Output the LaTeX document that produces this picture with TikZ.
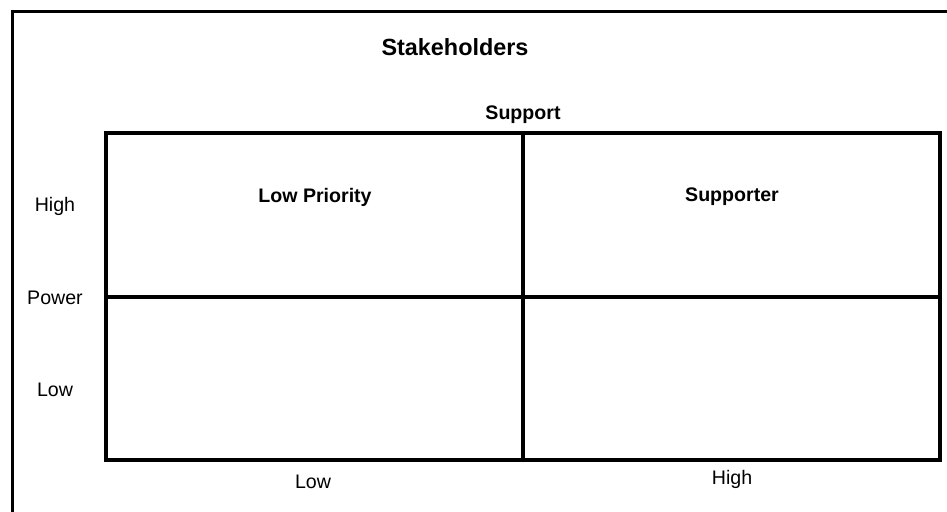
\documentclass[tikz,border=0pt]{standalone}
\usepackage{fontspec}
\setmainfont{Liberation Sans}
\usetikzlibrary{positioning}
\tikzset{
    frame/.style = {line width=1.5pt},
    grid line/.style = {line width=2pt},
    head/.style = {font=\fontsize{11.7}{14}\selectfont\bfseries},
    cell label/.style = {font=\fontsize{9.8}{12}\selectfont\bfseries},
    axis label/.style = {font=\fontsize{9.8}{12}\selectfont}
}

\begin{document}
\begin{tikzpicture}[x=0.5pt,y=-0.5pt]
    \useasboundingbox[fill=white] (0,0) rectangle (947,512);
    % outer frame, runs off the page at right and bottom
    \coordinate (fs) at (12,530);
    \coordinate (fe) at (970,12);
    \draw[frame] (fs) |- (fe);

    % matrix corners
    \coordinate (nw) at (106,133);
    \coordinate (se) at (940,460);
    \coordinate (c) at (523,297);
    \draw[grid line] (nw) rectangle (se);
    \draw[grid line] (nw -| c) -- (se -| c);
    \draw[grid line] (nw |- c) -- (se |- c);

    \node[head] (title) at (455,47) {Stakeholders};
    \node[cell label] (support) at (523,115) {Support};
    \node[cell label] (lowprio) at (315,197) {Low Priority};
    \node[cell label] (supporter) at (732,197) {Supporter};

    \node[axis label] (power) at (55,298) {Power};
    \node[axis label, above=46pt of power.center, anchor=center] (phigh) {High};
    \node[axis label, below=46pt of power.center, anchor=center] (plow) {Low};

    \node[axis label] (slow) at (313,482) {Low};
    \node[axis label] (shigh) at (732,479) {High};
\end{tikzpicture}
\end{document}
